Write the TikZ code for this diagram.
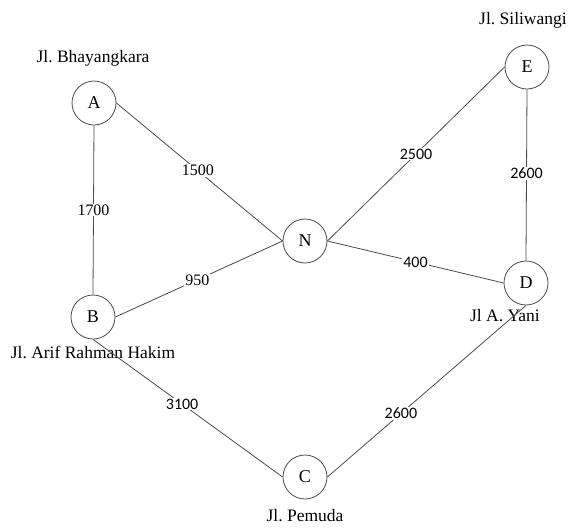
\documentclass[tikz,border=0pt]{standalone}
\usepackage{fontspec}
\setmainfont{Liberation Serif}
\newfontfamily\calib{Carlito}
\frenchspacing
\begin{document}
\begin{tikzpicture}[x=1pt,y=-1pt,
  place/.style={circle,draw=black!70,line width=0.8pt,minimum size=44pt,inner sep=0pt,font=\fontsize{18}{20}\selectfont},
  street/.style={font=\fontsize{17.5}{20}\selectfont,inner sep=0pt},
  road/.style={draw=black!70,line width=0.8pt},
  wt/.style={fill=white,inner sep=1pt,font=\fontsize{16}{18}\selectfont},
  wc/.style={fill=white,inner sep=1pt,font=\calib\fontsize{16}{18}\selectfont}]
\fill[white] (0,0) rectangle (571,528);
\useasboundingbox (0,0) rectangle (571,528);
\node[place] (A) at (94,103) {A};
\node[place] (B) at (93,317) {B};
\node[place] (N) at (305,241) {N};
\node[place] (E) at (527,67) {E};
\node[place] (D) at (526,283) {D};
\node[place] (C) at (305,477) {C};
\node[street] (lA) at (93,58) {Jl.\ Bhayangkara};
\node[street] (lE) at (523,20) {Jl.\ Siliwangi};
\node[street] (lB) at (93,352) {Jl.\ Arif Rahman Hakim};
\node[street] (lD) at (505,316) {Jl A.\ Yani};
\node[street] (lC) at (305,516) {Jl.\ Pemuda};
\path[road] (A.south) -- node[wt,pos=0.5] {1700} (B.north);
\path[road] (A.east) -- node[wt,pos=0.49] {1500} (N.west);
\path[road] (B.east) -- node[wt,pos=0.49] {950} (N.west);
\path[road] (N.east) -- node[wc,pos=0.5] {2500} (E.west);
\path[road] (N.east) -- node[wc,pos=0.5] {400} (D.west);
\path[road] (E.south) -- node[wc,pos=0.49] {2600} (D.north);
\path[road] (B.south) -- node[wc,pos=0.47] {3100} (C.west);
\path[road] (D.south) -- node[wc,pos=0.63] {2600} (C.east);
\end{tikzpicture}
\end{document}
